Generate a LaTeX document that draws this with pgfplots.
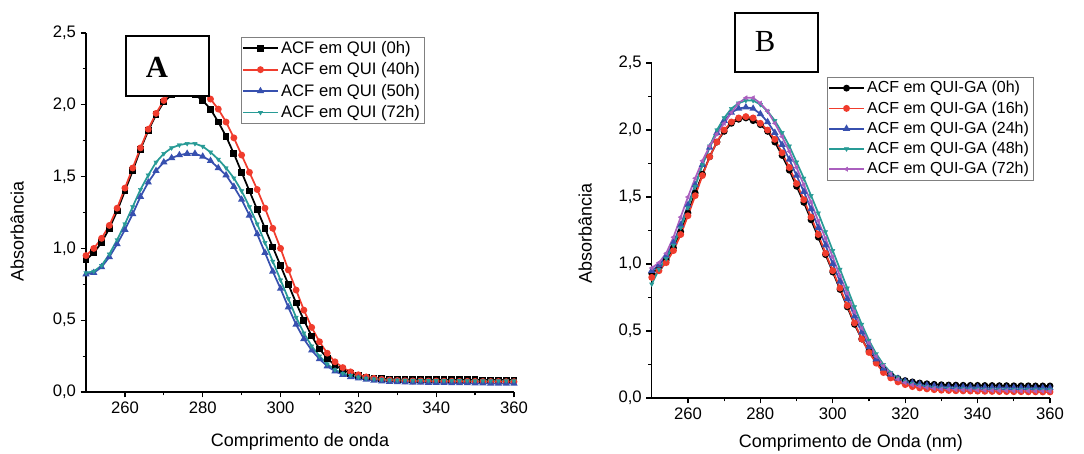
\documentclass[border=0pt]{standalone}
\usepackage{fontspec}
\setmainfont{Liberation Sans}
\newfontfamily\boxfont{Liberation Serif}
\usepackage{pgfplots}
\usepackage{pgfplotstable}
\pgfplotsset{compat=1.18}

\definecolor{cblack}{RGB}{0,0,0}
\definecolor{cred}{RGB}{240,60,45}
\definecolor{cblue}{RGB}{55,80,175}
\definecolor{cteal}{RGB}{40,155,150}
\definecolor{cviolet}{RGB}{170,95,190}

% painel A: ACF em QUI
\pgfplotstableread{
x    a0    a40   a50   a72
250  0.92  0.95  0.82  0.83
252  0.97  1.00  0.83  0.84
254  1.04  1.07  0.87  0.88
256  1.14  1.16  0.94  0.96
258  1.26  1.28  1.03  1.06
260  1.40  1.42  1.13  1.17
262  1.54  1.56  1.24  1.29
264  1.69  1.70  1.36  1.41
266  1.82  1.83  1.46  1.51
268  1.93  1.94  1.54  1.60
270  2.02  2.03  1.60  1.66
272  2.07  2.09  1.63  1.70
274  2.09  2.12  1.65  1.72
276  2.09  2.13  1.66  1.73
278  2.07  2.12  1.66  1.73
280  2.03  2.09  1.64  1.71
282  1.97  2.04  1.61  1.67
284  1.88  1.97  1.56  1.62
286  1.78  1.88  1.51  1.56
288  1.66  1.77  1.43  1.49
290  1.53  1.65  1.34  1.40
292  1.40  1.53  1.23  1.29
294  1.27  1.41  1.10  1.17
296  1.14  1.28  0.97  1.04
298  1.01  1.14  0.84  0.91
300  0.88  1.00  0.72  0.78
302  0.75  0.85  0.59  0.65
304  0.62  0.71  0.47  0.52
306  0.50  0.57  0.37  0.41
308  0.39  0.45  0.29  0.32
310  0.30  0.35  0.23  0.25
312  0.235 0.27  0.18  0.195
314  0.185 0.21  0.145 0.155
316  0.155 0.17  0.12  0.13
318  0.13  0.14  0.105 0.115
320  0.115 0.12  0.095 0.103
322  0.105 0.105 0.087 0.095
324  0.098 0.095 0.080 0.090
326  0.093 0.088 0.075 0.086
328  0.090 0.083 0.072 0.083
330  0.088 0.080 0.070 0.082
332  0.087 0.078 0.068 0.081
334  0.087 0.077 0.067 0.080
336  0.086 0.077 0.066 0.080
338  0.086 0.076 0.065 0.080
340  0.086 0.076 0.064 0.079
342  0.085 0.075 0.064 0.079
344  0.085 0.075 0.063 0.079
346  0.085 0.074 0.062 0.079
348  0.085 0.074 0.062 0.078
350  0.085 0.074 0.061 0.078
352  0.084 0.073 0.061 0.078
354  0.084 0.073 0.060 0.078
356  0.084 0.073 0.060 0.078
358  0.084 0.072 0.059 0.078
360  0.084 0.072 0.059 0.078
}\dataA

% painel B: ACF em QUI-GA
\pgfplotstableread{
x    b0    b16   b24   b48   b72
250  0.93  0.90  0.95  0.85  0.97
252  0.97  0.95  0.99  0.96  1.01
254  1.03  1.01  1.06  1.04  1.08
256  1.12  1.10  1.16  1.14  1.20
258  1.24  1.22  1.29  1.27  1.35
260  1.38  1.36  1.44  1.42  1.50
262  1.53  1.51  1.59  1.58  1.64
264  1.67  1.66  1.74  1.74  1.77
266  1.80  1.80  1.87  1.88  1.88
268  1.91  1.91  1.98  2.00  1.97
270  1.99  2.00  2.07  2.09  2.05
272  2.05  2.06  2.13  2.16  2.13
274  2.08  2.09  2.16  2.20  2.20
276  2.09  2.10  2.17  2.22  2.24
278  2.07  2.09  2.16  2.22  2.24
280  2.04  2.05  2.12  2.19  2.20
282  1.99  2.00  2.06  2.14  2.14
284  1.91  1.93  1.98  2.07  2.05
286  1.81  1.83  1.89  1.98  1.95
288  1.70  1.72  1.78  1.88  1.84
290  1.58  1.60  1.66  1.76  1.72
292  1.46  1.48  1.54  1.64  1.59
294  1.33  1.35  1.41  1.51  1.46
296  1.20  1.22  1.27  1.38  1.32
298  1.07  1.08  1.14  1.24  1.19
300  0.94  0.95  1.00  1.10  1.05
302  0.81  0.82  0.87  0.96  0.91
304  0.68  0.69  0.74  0.82  0.78
306  0.55  0.56  0.61  0.68  0.64
308  0.44  0.44  0.49  0.55  0.52
310  0.35  0.34  0.38  0.43  0.41
312  0.27  0.26  0.29  0.33  0.31
314  0.21  0.19  0.22  0.25  0.24
316  0.17  0.15  0.175 0.19  0.18
318  0.145 0.12  0.145 0.15  0.14
320  0.13  0.10  0.125 0.125 0.115
322  0.12  0.085 0.112 0.108 0.098
324  0.112 0.075 0.102 0.095 0.087
326  0.106 0.068 0.095 0.085 0.078
328  0.102 0.062 0.090 0.078 0.071
330  0.099 0.058 0.086 0.073 0.066
332  0.097 0.056 0.084 0.071 0.064
334  0.096 0.054 0.083 0.069 0.062
336  0.095 0.053 0.082 0.068 0.060
338  0.094 0.052 0.081 0.067 0.059
340  0.094 0.051 0.080 0.066 0.058
342  0.093 0.050 0.079 0.065 0.057
344  0.093 0.049 0.078 0.064 0.056
346  0.092 0.048 0.078 0.063 0.055
348  0.092 0.048 0.077 0.063 0.054
350  0.091 0.047 0.077 0.062 0.053
352  0.091 0.047 0.076 0.062 0.052
354  0.091 0.046 0.076 0.061 0.052
356  0.090 0.046 0.075 0.061 0.051
358  0.090 0.045 0.075 0.060 0.051
360  0.090 0.045 0.075 0.060 0.050
}\dataB

\pgfplotsset{
  spec/.style={
    scale only axis,
    xmin=250, xmax=360, ymin=0, ymax=2.5,
    axis x line*=bottom, axis y line*=left,
    axis line style={line width=1.1pt},
    tick align=outside,
    major tick length=4pt, minor tick length=2.5pt,
    every tick/.style={line width=0.9pt, black},
    xtick={260,280,...,360}, ytick={0,0.5,...,2.5},
    minor x tick num=1, minor y tick num=1,
    /pgf/number format/assume math mode=true,
    yticklabel style={/pgf/number format/use comma, /pgf/number format/fixed,
      /pgf/number format/fixed zerofill, /pgf/number format/precision=1},
    tick label style={font=\fontsize{12.5}{14}\selectfont},
    label style={font=\fontsize{13.5}{15}\selectfont},
    every axis plot/.append style={line width=1.3pt, mark size=1.9pt},
    every mark/.append style={line width=0.3pt},
    legend cell align=left,
    legend image code/.code={\draw[mark repeat=2,mark phase=2,#1]
      plot coordinates {(0cm,0cm) (0.45cm,0cm) (0.9cm,0cm)};},
  },
}

\begin{document}
\begin{tikzpicture}
\useasboundingbox (0,0) rectangle (813pt,339.75pt);

\begin{axis}[spec,
  at={(64.5pt,45.75pt)}, anchor=south west,
  width=321pt, height=269.25pt,
  xlabel={Comprimento de onda}, ylabel={Absorbância},
  xlabel style={at={(axis description cs:0.5,-0.139)}, anchor=center},
  ylabel style={at={(axis description cs:-0.161,0.446)}, anchor=center},
  legend style={at={(0.362,0.989)}, anchor=north west, draw=gray,
    font=\fontsize{12.5}{14}\selectfont, inner sep=1pt, row sep=1.5pt,
    nodes={inner sep=2pt}},
]
\addplot[color=cblack, mark=square*] table[x=x, y=a0] {\dataA};
\addlegendentry{ACF em QUI (0h)}
\addplot[color=cred, mark=*] table[x=x, y=a40] {\dataA};
\addlegendentry{ACF em QUI (40h)}
\addplot[color=cblue, mark=triangle*] table[x=x, y=a50] {\dataA};
\addlegendentry{ACF em QUI (50h)}
\addplot[color=cteal, mark=triangle*, mark options={rotate=180, line width=0.3pt}] table[x=x, y=a72] {\dataA};
\addlegendentry{ACF em QUI (72h)}
\end{axis}

\begin{axis}[spec,
  at={(488.8pt,41.25pt)}, anchor=south west,
  width=298.7pt, height=251.25pt,
  xlabel={Comprimento de Onda (nm)}, ylabel={Absorbância},
  xlabel style={at={(axis description cs:0.5,-0.134)}, anchor=center},
  ylabel style={at={(axis description cs:-0.167,0.4925)}, anchor=center},
  legend style={at={(0.44,0.958)}, anchor=north west, draw=gray,
    font=\fontsize{12}{13.5}\selectfont, inner sep=1pt, row sep=1pt,
    nodes={inner sep=2pt}},
]
\addplot[color=cblack, mark=*] table[x=x, y=b0] {\dataB};
\addlegendentry{ACF em QUI-GA (0h)}
\addplot[color=cred, mark=*] table[x=x, y=b16] {\dataB};
\addlegendentry{ACF em QUI-GA (16h)}
\addplot[color=cblue, mark=triangle*] table[x=x, y=b24] {\dataB};
\addlegendentry{ACF em QUI-GA (24h)}
\addplot[color=cteal, mark=triangle*, mark options={rotate=180, line width=0.3pt}] table[x=x, y=b48] {\dataB};
\addlegendentry{ACF em QUI-GA (48h)}
\addplot[color=cviolet, mark=triangle*, mark options={rotate=90, line width=0.3pt}] table[x=x, y=b72] {\dataB};
\addlegendentry{ACF em QUI-GA (72h)}
\end{axis}

% caixas com as letras dos paineis
\draw[line width=0.9pt, fill=white] (94.5pt,267.75pt) rectangle (156.75pt,312.75pt);
\node[font=\boxfont\bfseries\fontsize{23}{23}\selectfont] at (117.75pt,289.5pt) {A};
\draw[line width=0.9pt, fill=white] (551.25pt,285.75pt) rectangle (613.5pt,330pt);
\node[font=\boxfont\fontsize{23}{23}\selectfont] at (573.75pt,308.25pt) {B};
\end{tikzpicture}
\end{document}
